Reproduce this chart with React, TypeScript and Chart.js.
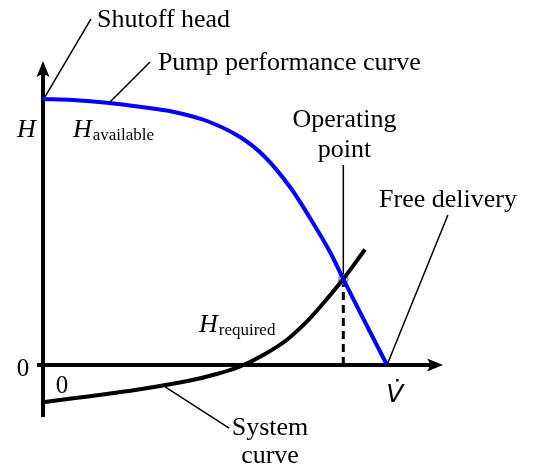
import React, { useEffect, useRef } from "react";
import { Chart, registerables } from "chart.js";

Chart.register(...registerables);

// ---- data (schematic units) ----
const pumpFlow = [0, 0.872, 1.86, 2.82, 3.779, 4.767, 5.727, 6.454, 7.18, 7.762, 8.343, 8.73, 9.36, 10];
const pumpHead = [10, 9.962, 9.861, 9.707, 9.523, 9.173, 8.571, 7.82, 6.692, 5.526, 4.248, 3.23, 1.617, 0];
const systemFlow = [0, 0.881, 1.852, 2.82, 4.273, 5.049, 5.727, 6.404, 7.084, 7.666, 8.148, 8.73, 9.36];
const systemHead = [-1.402, -1.252, -1.09, -0.914, -0.583, -0.338, -0.056, 0.376, 0.94, 1.628, 2.32, 3.23, 4.342];
const operatingFlow = [8.73];
const operatingHead = [3.23];
const xTickLabels = ["0"];
const yTickLabels = ["0"];

// ---- layout of scales (units) ----
const X_MIN = -1.25;
const X_MAX = 14.244;
const Y_MIN = -3.872;
const Y_MAX = 13.722;

const SERIF = '"Liberation Serif", "Times New Roman", serif';

type Ann = { text: string; x: number; y: number; align?: CanvasTextAlign };
const annotations: Ann[] = [
  { text: "Shutoff head", x: 1.57, y: 12.71 },
  { text: "Pump performance curve", x: 3.34, y: 11.09 },
  { text: "Operating", x: 8.765, y: 8.95, align: "center" },
  { text: "point", x: 8.765, y: 7.82, align: "center" },
  { text: "Free delivery", x: 9.77, y: 5.94 },
  { text: "System", x: 6.6, y: -2.63, align: "center" },
  { text: "curve", x: 6.6, y: -3.68, align: "center" },
];
const leaders: [number, number, number, number][] = [
  [0.058, 10.08, 1.395, 13.01],
  [1.948, 9.89, 3.11, 11.39],
  [8.73, 7.52, 8.73, 3.42],
  [11.77, 5.64, 10, 0],
  [3.55, -0.82, 5.41, -2.37],
];

const overlay = {
  id: "schematic",
  beforeDatasetsDraw(chart: any) {
    const { ctx } = chart;
    const xs = chart.scales.x;
    const ys = chart.scales.y;
    const px = (v: number) => xs.getPixelForValue(v);
    const py = (v: number) => ys.getPixelForValue(v);
    ctx.save();
    // dashed line from operating point to the axis
    ctx.strokeStyle = "#000";
    ctx.lineWidth = 3;
    ctx.setLineDash([8, 5]);
    ctx.beginPath();
    ctx.moveTo(px(operatingFlow[0]), py(operatingHead[0]));
    ctx.lineTo(px(operatingFlow[0]), py(0));
    ctx.stroke();
    ctx.setLineDash([]);

    // axes
    const x0 = px(0);
    const y0 = py(0);
    const xTip = px(11.63);
    const yTip = py(11.43);
    ctx.lineWidth = 4;
    ctx.beginPath();
    ctx.moveTo(px(-0.174), y0);
    ctx.lineTo(xTip - 10, y0);
    ctx.moveTo(x0, py(-1.955));
    ctx.lineTo(x0, yTip + 10);
    ctx.stroke();
    ctx.fillStyle = "#000";
    // x arrow
    ctx.beginPath();
    ctx.moveTo(xTip, y0);
    ctx.lineTo(xTip - 16, y0 - 6.5);
    ctx.quadraticCurveTo(xTip - 11, y0, xTip - 16, y0 + 6.5);
    ctx.closePath();
    ctx.fill();
    // y arrow
    ctx.beginPath();
    ctx.moveTo(x0, yTip);
    ctx.lineTo(x0 - 6.5, yTip + 16);
    ctx.quadraticCurveTo(x0, yTip + 11, x0 + 6.5, yTip + 16);
    ctx.closePath();
    ctx.fill();
    ctx.restore();
  },
  afterDatasetsDraw(chart: any) {
    const { ctx } = chart;
    const xs = chart.scales.x;
    const ys = chart.scales.y;
    const px = (v: number) => xs.getPixelForValue(v);
    const py = (v: number) => ys.getPixelForValue(v);
    ctx.save();
    ctx.strokeStyle = "#000";
    ctx.fillStyle = "#000";
    ctx.lineWidth = 1.5;
    ctx.beginPath();
    for (const [a, b, c, d] of leaders) {
      ctx.moveTo(px(a), py(b));
      ctx.lineTo(px(c), py(d));
    }
    ctx.stroke();

    ctx.textBaseline = "alphabetic";
    ctx.font = `26px ${SERIF}`;
    for (const a of annotations) {
      ctx.textAlign = a.align || "left";
      ctx.fillText(a.text, px(a.x), py(a.y));
    }
    // tick labels
    ctx.textAlign = "center";
    ctx.font = `25px ${SERIF}`;
    ctx.fillText(yTickLabels[0], px(-0.58), py(-0.41));
    ctx.fillText(xTickLabels[0], px(0.552), py(-1.05));

    // H labels
    const subLabel = (main: string, sub: string, x: number, y: number) => {
      ctx.textAlign = "left";
      ctx.font = `italic 26px ${SERIF}`;
      ctx.fillText(main, px(x), py(y));
      const w = ctx.measureText(main).width;
      if (sub) {
        ctx.font = `17px ${SERIF}`;
        ctx.fillText(sub, px(x) + w + 1, py(y) + 3);
      }
    };
    subLabel("H", "", -0.756, 8.57);
    subLabel("H", "available", 0.872, 8.57);
    subLabel("H", "required", 4.535, 1.24);

    // flow rate symbol
    ctx.textAlign = "center";
    ctx.font = `italic 25px "DejaVu Sans", sans-serif`;
    ctx.fillText("V\u0307", px(10.23), py(-1.39));
    ctx.restore();
  },
};

export default function App() {
  const ref = useRef<HTMLCanvasElement | null>(null);
  useEffect(() => {
    if (!ref.current) return;
    const chart = new Chart(ref.current, {
      type: "scatter",
      data: {
        datasets: [
          {
            data: pumpFlow.map((x, i) => ({ x, y: pumpHead[i] })),
            showLine: true,
            borderColor: "#0000ff",
            borderWidth: 4,
            pointRadius: 0,
            tension: 0.35,
            fill: false,
          },
          {
            data: systemFlow.map((x, i) => ({ x, y: systemHead[i] })),
            showLine: true,
            borderColor: "#000000",
            borderWidth: 4,
            pointRadius: 0,
            tension: 0.35,
            fill: false,
          },
          {
            data: operatingFlow.map((x, i) => ({ x, y: operatingHead[i] })),
            showLine: false,
            pointRadius: 4.5,
            borderWidth: 2,
            borderColor: "#a0a0a0",
            backgroundColor: "#ffffff",
          },
        ],
      },
      options: {
        responsive: false,
        animation: false,
        events: [],
        layout: { padding: 0, autoPadding: false },
        plugins: { legend: { display: false }, tooltip: { enabled: false } },
        scales: {
          x: { type: "linear", display: false, min: X_MIN, max: X_MAX },
          y: { type: "linear", display: false, min: Y_MIN, max: Y_MAX },
        },
      },
      plugins: [overlay],
    } as any);
    return () => chart.destroy();
  }, []);
  return (
    <div style={{ position: "fixed", left: 0, top: 0, width: 533, height: 468, background: "#fff" }}>
      <canvas ref={ref} width={533} height={468} style={{ display: "block" }} />
    </div>
  );
}
